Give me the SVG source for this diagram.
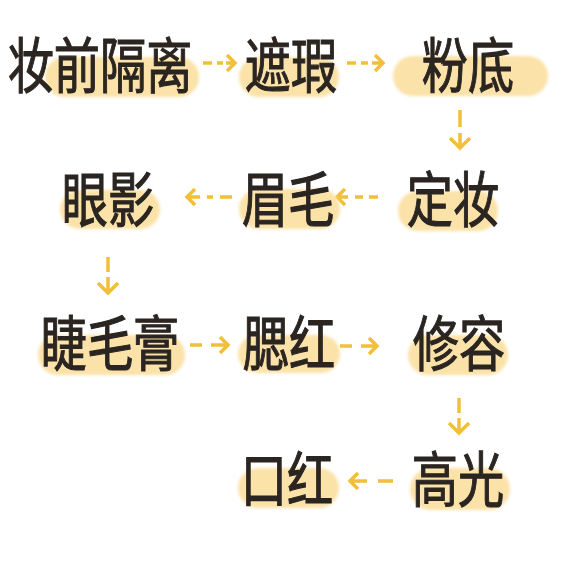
<svg xmlns="http://www.w3.org/2000/svg" width="584" height="575" viewBox="0 0 584 575">
<defs>
<filter id="soft" x="-10%" y="-30%" width="120%" height="160%"><feGaussianBlur stdDeviation="1.5"/></filter>
</defs>
<style>
.pill{fill:#FBE2A8;filter:url(#soft)}
.lbl{font-family:"Noto Sans CJK SC","Noto Sans",sans-serif;font-size:60px;font-weight:400;fill:#2B2521;stroke:#2B2521;stroke-width:1.1;text-anchor:middle}
.arr{fill:none;stroke:#F1BF3A;stroke-width:3.5;stroke-linecap:butt;stroke-linejoin:miter}
</style>
<rect width="584" height="575" fill="#FFFFFF"/>
<g id="connectors">
<path class="arr" d="M203 63H212M217 63H223M226 63H235M227 55L235 63L227 71"/>
<path class="arr" d="M347 63H356M361 63H368M372 63H383M375 55L383 63L375 71"/>
<path class="arr" d="M460 110V127M460 133V148M450 138L460 148L470 138"/>
<path class="arr" d="M378 197H369M363 197H355M348 197H337M345 189L337 197L345 205"/>
<path class="arr" d="M232 197H220M213 197H207M200 197H187M195 189L187 197L195 205"/>
<path class="arr" d="M108 257V272M108 277V293M98 283L108 293L118 283"/>
<path class="arr" d="M190 345H202M211 345H228M220 337L228 345L220 353"/>
<path class="arr" d="M340 346H352M361 346H377M369 338L377 346L369 354"/>
<path class="arr" d="M459 398V413M459 418V433M449 423L459 433L469 423"/>
<path class="arr" d="M393 481H378M367 481H350M358 473L350 481L358 489"/>
</g>
<g id="n1"><rect class="pill" x="45" y="57" width="154" height="40" rx="20"/><text class="lbl" transform="translate(100 88) scale(0.77 1)">妆前隔离</text></g>
<g id="n2"><rect class="pill" x="239" y="57" width="100" height="40" rx="20"/><text class="lbl" transform="translate(291 88) scale(0.77 1)">遮瑕</text></g>
<g id="n3"><rect class="pill" x="393" y="56" width="155" height="40" rx="20"/><text class="lbl" transform="translate(468 88) scale(0.77 1)">粉底</text></g>
<g id="n4"><rect class="pill" x="398" y="191" width="100" height="40" rx="20"/><text class="lbl" transform="translate(453 222) scale(0.77 1)">定妆</text></g>
<g id="n5"><rect class="pill" x="239" y="189" width="101" height="40" rx="20"/><text class="lbl" transform="translate(288 222) scale(0.77 1)">眉毛</text></g>
<g id="n6"><rect class="pill" x="60" y="190" width="100" height="39" rx="19.5"/><text class="lbl" transform="translate(108 222) scale(0.77 1)">眼影</text></g>
<g id="n7"><rect class="pill" x="38" y="335" width="147" height="40" rx="20"/><text class="lbl" transform="translate(110 366) scale(0.77 1)">睫毛膏</text></g>
<g id="n8"><rect class="pill" x="238" y="335" width="102" height="38" rx="19"/><text class="lbl" transform="translate(289 366) scale(0.77 1)">腮红</text></g>
<g id="n9"><rect class="pill" x="408" y="335" width="100" height="40" rx="20"/><text class="lbl" transform="translate(459 366) scale(0.77 1)">修容</text></g>
<g id="n10"><rect class="pill" x="410" y="468" width="100" height="42" rx="21"/><text class="lbl" transform="translate(458 502) scale(0.77 1)">高光</text></g>
<g id="n11"><rect class="pill" x="238" y="468" width="101" height="40" rx="20"/><text class="lbl" transform="translate(287 502) scale(0.77 1)">口红</text></g>
</svg>
